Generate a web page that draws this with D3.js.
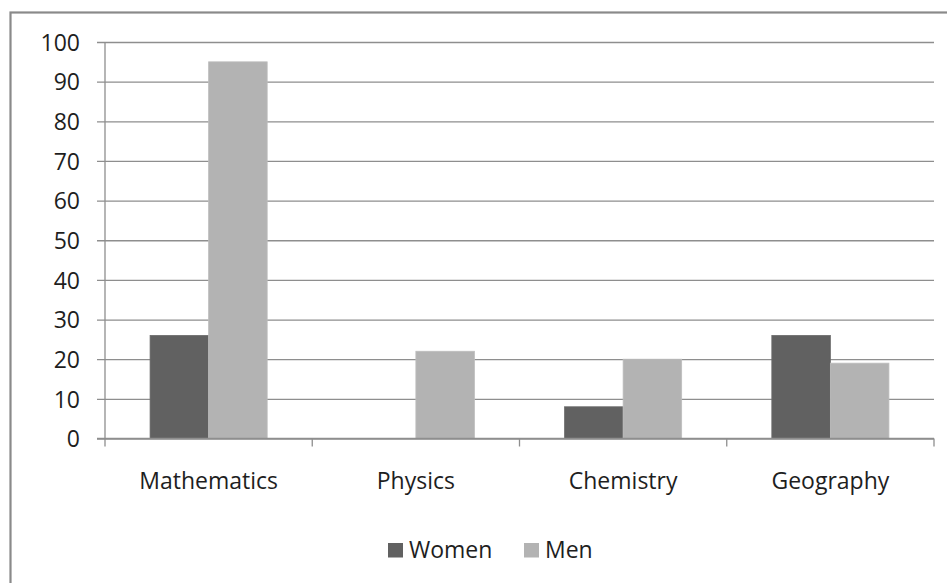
<!DOCTYPE html>
<html>
<head>
<meta charset="utf-8">
<script src="https://cdn.jsdelivr.net/npm/d3@7"></script>
<style>
  html, body { margin: 0; padding: 0; background: #fff; }
  svg { display: block; }
  text { font-family: "Open Sans", "Noto Sans", sans-serif; fill: #1e1e1e; }
</style>
</head>
<body>
<svg id="chart" width="947" height="583"></svg>
<script>
// Subjects and enrolment figures per group
const categories = ["Mathematics", "Physics", "Chemistry", "Geography"];
const seriesNames = ["Women", "Men"];
const women = [26, 0, 8, 26];
const men = [95, 22, 20, 19];
const yTicks = [0, 10, 20, 30, 40, 50, 60, 70, 80, 90, 100];

const seriesColors = ["#616161", "#b3b3b3"];
const values = [women, men];

const svg = d3.select("#chart");

// Outer frame of the chart area
svg.append("rect")
  .attr("x", 10.5).attr("y", 12.5)
  .attr("width", 960).attr("height", 600)
  .attr("fill", "none")
  .attr("stroke", "#8a8a8a")
  .attr("stroke-width", 2.2);

const plot = { left: 105, right: 934, top: 42, bottom: 438.5 };

const x = d3.scaleBand()
  .domain(categories)
  .range([plot.left, plot.right])
  .paddingInner(0)
  .paddingOuter(0);

const y = d3.scaleLinear()
  .domain([0, 100])
  .range([plot.bottom, plot.top]);

// Horizontal gridlines with short ticks left of the axis
const yAxis = d3.axisLeft(y)
  .tickValues(yTicks)
  .tickSize(-(plot.right - plot.left))
  .tickPadding(0)
  .tickFormat(d3.format("d"));

const gy = svg.append("g")
  .attr("transform", `translate(${plot.left},0)`)
  .call(yAxis);
gy.select(".domain").remove();
gy.selectAll(".tick line")
  .attr("x1", -8)
  .attr("stroke", "#8e8e8e")
  .attr("stroke-width", 1.3);
gy.selectAll(".tick text")
  .attr("x", -25)
  .attr("dy", "0.36em")
  .style("font-size", "23px")
  .style("font-family", "'Open Sans', sans-serif")
  .attr("fill", "#1e1e1e");

// Vertical axis line
svg.append("line")
  .attr("x1", plot.left).attr("x2", plot.left)
  .attr("y1", plot.top).attr("y2", plot.bottom)
  .attr("stroke", "#8e8e8e")
  .attr("stroke-width", 1.3);

// Bars: two series side by side within each category
const inner = d3.scaleBand()
  .domain(seriesNames)
  .range([0, x.bandwidth()])
  .paddingOuter(0.77)
  .paddingInner(0);

const groups = svg.append("g").selectAll("g")
  .data(categories)
  .join("g")
  .attr("transform", d => `translate(${x(d)},0)`);

groups.selectAll("rect")
  .data((d, i) => seriesNames.map((s, j) => ({ s, v: values[j][i], j })))
  .join("rect")
  .attr("x", d => inner(d.s))
  .attr("width", inner.bandwidth())
  .attr("y", d => y(d.v))
  .attr("height", d => y(0) - y(d.v))
  .attr("fill", d => seriesColors[d.j])
  .attr("stroke", d => d.j === 0 ? "#6c6c6c" : "#bdbdbd")
  .attr("stroke-width", 0.8);

// Category axis along the bottom
const xAxis = d3.axisBottom(x).tickSize(0).tickPadding(0);
const gx = svg.append("g")
  .attr("transform", `translate(0,${plot.bottom})`)
  .call(xAxis);
gx.select(".domain").remove();
gx.selectAll(".tick text")
  .attr("y", 50)
  .attr("dy", 0)
  .style("font-size", "23px")
  .style("font-family", "'Open Sans', sans-serif")
  .attr("fill", "#1e1e1e");

svg.append("line")
  .attr("x1", plot.left - 8).attr("x2", plot.right)
  .attr("y1", plot.bottom).attr("y2", plot.bottom)
  .attr("stroke", "#8e8e8e")
  .attr("stroke-width", 1.3);

// Category boundary ticks below the baseline
const boundaries = categories.map(c => x(c)).concat([x.range()[1]]);
svg.append("g").selectAll("line")
  .data(boundaries)
  .join("line")
  .attr("x1", d => d).attr("x2", d => d)
  .attr("y1", plot.bottom).attr("y2", plot.bottom + 8)
  .attr("stroke", "#8e8e8e")
  .attr("stroke-width", 1.3);

// Legend
const legendItems = [
  { name: seriesNames[0], color: seriesColors[0], sx: 388, tx: 409 },
  { name: seriesNames[1], color: seriesColors[1], sx: 524, tx: 545 }
];
const legend = svg.append("g");
legend.selectAll("rect")
  .data(legendItems)
  .join("rect")
  .attr("x", d => d.sx).attr("y", 543)
  .attr("width", 15).attr("height", 14.5)
  .attr("fill", d => d.color);
legend.selectAll("text")
  .data(legendItems)
  .join("text")
  .attr("x", d => d.tx).attr("y", 558)
  .style("font-size", "23px")
  .text(d => d.name);
</script>
</body>
</html>
